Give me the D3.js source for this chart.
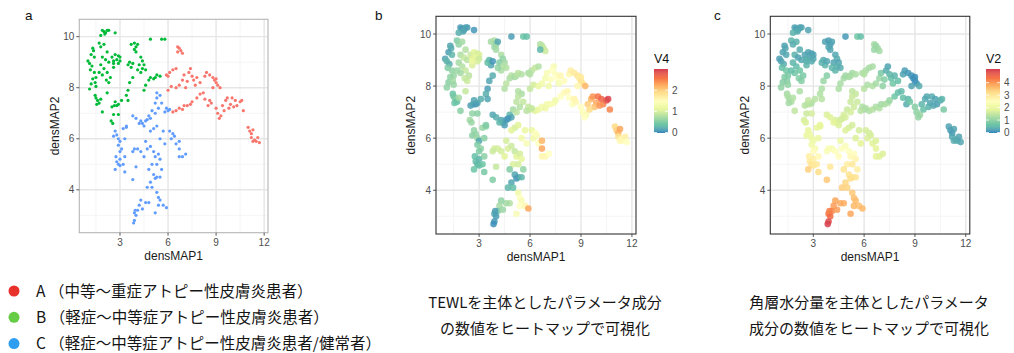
<!DOCTYPE html>
<html>
<head>
<meta charset="utf-8">
<script src="https://cdn.jsdelivr.net/npm/d3@7"></script>
<style>
  body { margin: 0; background: #fff; }
  svg { display: block; }
  .tick-lab { font-family: "Liberation Sans", Arial, sans-serif; font-size: 10px; fill: #4d4d4d; }
  .ax-title { font-family: "Liberation Sans", Arial, sans-serif; font-size: 12px; fill: #1a1a1a; }
  .jp { font-family: "Noto Sans CJK JP", sans-serif; font-size: 15px; fill: #151515; }
</style>
</head>
<body>
<div id="chart"></div>
<script>
// [densMAP1, densMAP2, V4, V2]
const clusterA = [
  [6.1,8.6,0.85,1.3],[6.3,8.7,0.9,1.2],[6.5,8.75,0.8,1.25],[5.9,8.5,0.75,1.3],[6.0,8.45,0.8,1.35],
  [6.6,9.6,0.8,1.2],[6.7,9.55,0.85,1.1],[6.8,9.45,0.9,1.15],[6.9,9.35,0.95,1.2],[6.6,9.4,0.3,1.1],
  [6.0,7.9,0.9,1.4],[6.2,8.05,1.0,1.3],[6.5,8.0,1.2,1.35],[6.7,8.1,1.3,1.2],[6.9,8.3,1.35,1.1],
  [7.0,8.5,1.4,0.8],[7.2,8.25,1.45,0.9],[7.1,8.0,1.3,1.0],[7.4,8.75,1.4,0.3],[7.3,8.6,1.5,0.4],
  [7.5,8.45,1.45,0.5],[7.6,8.3,1.5,0.6],[7.7,8.1,1.35,0.7],[7.8,8.4,1.6,0.5],[8.0,8.2,1.55,0.6],
  [8.3,8.45,1.6,0.3],[8.4,8.6,1.7,0.25],[8.6,8.5,1.75,0.2],[8.8,8.4,1.8,0.15],[8.9,8.3,1.7,0.1],
  [9.0,8.2,1.85,0.1],[9.1,8.1,1.8,0.15],[8.8,8.0,1.6,0.3],[9.0,8.35,1.75,0.1],[9.25,8.0,2.2,0.4],
  [6.3,7.05,1.1,1.3],[6.5,7.1,1.2,1.4],[6.7,7.2,1.3,1.3],[6.9,7.15,1.25,1.35],[7.0,7.3,1.3,1.2],
  [7.2,7.3,1.35,1.25],[7.4,7.35,1.4,1.3],[7.5,7.45,1.3,1.1],[7.8,7.6,1.5,0.7],[8.0,7.75,1.55,0.6],
  [8.2,7.8,1.6,0.55],[8.3,7.55,1.5,0.6],[8.6,7.5,1.65,0.5],[8.5,7.3,1.45,0.4],[8.7,7.4,1.6,0.7],
  [9.0,7.2,1.5,0.9],[9.1,7.0,1.45,1.0],[9.3,6.9,1.4,1.1],[9.2,6.8,1.5,1.05],[9.4,7.3,2.0,0.5],
  [9.6,7.5,2.2,0.4],[9.7,7.6,2.4,0.35],[9.9,7.35,2.3,0.3],[10.0,7.6,2.6,0.4],[10.2,7.5,2.7,0.3],
  [10.3,7.3,2.5,0.25],[10.5,7.45,2.8,0.4],[10.6,7.5,2.95,0.5],[10.7,7.1,2.5,0.8],[9.8,7.2,2.1,0.45],
  [9.5,7.1,1.9,0.6],[10.1,7.25,2.4,0.35],
  [11.0,6.45,1.9,0.3],[11.1,6.3,2.0,0.25],[11.2,6.2,2.2,0.2],[11.3,6.35,2.3,0.3],[11.2,6.05,1.8,0.35],
  [11.4,5.95,1.6,0.4],[11.5,5.9,1.5,0.45],[11.6,6.05,1.7,0.3],[11.3,5.9,1.6,0.4],[11.7,5.85,1.5,0.35]
];
const clusterB = [
  [1.9,10.25,0.15,0.3],[2.0,10.2,0.1,0.25],[2.1,10.15,0.15,0.3],[2.2,10.25,0.2,0.35],[2.3,10.25,0.15,0.3],
  [2.05,10.1,0.2,0.4],[1.8,10.05,0.25,0.45],[2.7,10.15,0.1,0.3],[1.7,9.75,0.5,0.5],
  [1.3,9.55,0.2,0.3],[1.35,9.45,0.25,0.35],[1.2,9.3,0.15,0.3],[1.4,9.2,0.3,0.35],[1.0,9.05,0.2,0.25],
  [1.1,8.95,0.3,0.3],[1.25,8.85,0.25,0.4],[1.15,8.7,0.5,0.6],[1.4,8.6,0.6,0.7],[1.5,8.4,0.65,0.8],
  [1.3,8.35,0.6,0.85],[1.2,8.15,0.55,0.9],[1.45,8.2,0.7,0.9],[1.1,7.95,0.6,1.0],[1.5,8.05,0.65,1.0],
  [1.45,7.7,0.4,1.2],[1.5,7.6,0.45,1.3],[1.6,7.5,0.5,1.25],[1.7,7.4,0.35,1.3],[1.55,7.35,0.4,1.2],
  [1.8,7.55,0.7,1.35],[1.9,7.05,0.55,1.5],
  [1.8,9.6,0.6,0.4],[2.0,9.7,0.7,0.45],[2.2,9.4,0.8,0.4],[1.9,9.2,0.75,0.45],[2.1,9.1,0.9,0.3],
  [2.3,9.0,0.85,0.35],[1.8,8.9,0.7,0.5],[2.0,8.75,0.8,0.55],[2.2,8.6,0.9,0.7],[1.9,8.5,0.7,0.7],
  [2.4,8.4,0.85,0.8],[2.3,8.2,0.95,0.9],[2.6,8.8,1.05,0.5],[2.5,9.2,0.95,0.3],[1.7,8.6,0.65,0.6],
  [2.15,8.3,0.9,0.85],
  [2.7,9.3,1.1,0.3],[2.9,9.25,1.0,0.25],[3.0,9.2,1.05,0.3],[2.8,9.1,1.15,0.35],[2.6,9.05,1.1,0.4],
  [3.0,9.05,0.95,0.35],[2.9,8.95,1.0,0.4],[2.6,8.95,1.2,0.45],
  [2.2,7.8,0.9,1.3],[2.5,7.25,0.15,1.4],[2.65,7.3,0.2,1.4],[2.8,7.3,0.1,1.45],[2.9,7.35,0.15,1.35],
  [2.7,7.45,0.2,1.5],[3.1,7.5,0.25,1.4],[2.6,6.95,0.6,1.6],[2.9,6.95,0.55,1.7],[2.45,6.7,0.7,1.75],
  [2.55,6.6,0.65,1.8],
  [3.7,9.7,0.7,0.3],[3.9,9.75,0.75,0.25],[4.0,9.6,0.6,0.2],[4.1,9.7,0.2,0.3],[3.9,9.5,0.65,0.35],
  [4.0,9.4,0.7,0.3],[4.3,9.2,0.75,0.35],[4.4,9.05,0.6,0.4],[4.2,8.9,0.5,0.3],[4.5,8.9,0.7,0.35],
  [4.4,8.75,0.8,0.45],[4.3,8.6,0.75,0.5],[4.6,8.7,0.8,0.4],[3.6,9.0,0.3,0.4],[3.7,8.8,0.2,0.5],
  [3.5,8.9,0.35,0.45],[3.8,8.95,0.1,0.35],[4.1,8.7,0.6,0.5],[3.8,8.4,0.25,0.9],[3.6,8.2,0.2,1.1],
  [3.5,7.9,0.15,1.3],[3.4,7.7,0.25,1.35],[3.5,7.5,0.2,1.4],[4.8,8.3,0.75,1.2],[4.9,8.4,0.8,1.15],
  [5.1,8.35,0.7,1.2],[5.2,8.4,0.8,1.25],[4.9,9.9,0.15,0.2],[5.6,9.9,0.4,0.7],[5.8,9.9,0.35,0.6],
  [4.5,7.9,0.8,1.3],[4.6,8.1,0.85,1.25],[5.3,8.5,0.85,1.2],[5.5,8.45,0.8,1.3]
];
const clusterC = [
  [5.9,7.2,0.9,1.3],[6.0,7.1,0.95,1.25],[6.1,7.15,0.9,1.3],[5.8,7.05,0.85,1.4],
  [5.3,7.8,0.8,1.5],[5.5,7.7,0.75,1.55],[5.3,7.6,0.85,1.6],[5.6,7.4,0.9,1.6],[5.4,7.2,0.8,1.65],
  [5.0,7.1,0.7,1.6],[5.2,7.0,0.85,1.7],[4.8,6.9,0.3,1.7],[4.9,6.8,0.2,1.75],[4.6,6.7,0.15,1.7],
  [4.4,6.6,0.1,1.8],[4.3,6.7,0.2,1.75],[4.5,6.5,0.15,1.8],[4.7,6.75,0.1,1.7],[3.8,6.9,0.2,1.8],
  [4.0,6.8,0.25,1.85],[4.2,6.6,0.3,1.9],
  [5.7,6.3,1.2,1.7],[5.5,6.0,1.3,1.8],[5.8,5.8,1.4,1.9],[5.1,6.4,1.0,1.75],[5.3,6.5,1.1,1.7],
  [6.2,6.0,1.3,1.8],[6.1,6.3,1.2,1.7],[6.4,6.1,1.4,1.75],[6.5,5.8,1.5,1.85],[6.7,5.9,2.2,1.8],
  [6.7,5.6,2.3,1.9],[6.7,5.3,1.6,1.9],[6.9,5.3,1.6,1.85],[7.1,5.4,1.5,1.8],[6.3,6.2,1.45,1.7],
  [2.7,6.3,0.6,2.0],[2.6,6.1,0.55,2.05],[2.8,6.15,0.6,2.1],[2.9,6.0,0.65,2.1],[3.0,5.9,0.2,2.15],
  [2.9,5.75,0.5,2.2],[3.1,5.6,0.6,2.25],[3.3,6.0,0.55,2.1],[3.2,6.4,0.65,2.0],[3.4,6.45,0.6,1.95],
  [2.8,5.1,0.35,3.0],[2.9,5.0,0.3,3.1],[3.0,4.95,0.35,3.05],[2.7,4.8,0.4,3.4],[3.0,5.2,0.3,2.9],
  [3.2,5.0,0.4,3.0],[3.3,4.7,0.45,3.2],[3.0,5.5,0.5,2.6],[3.3,5.3,0.55,2.7],[2.75,5.3,0.35,2.9],
  [3.8,4.4,0.5,3.5],[3.9,5.6,1.0,2.4],[4.1,5.6,1.0,2.35],[3.8,5.5,0.95,2.4],[4.0,4.9,0.9,3.0],
  [4.3,5.5,1.0,2.5],[4.5,5.3,1.1,2.6],[4.7,5.6,1.05,2.5],[4.9,5.7,0.95,2.4],[5.1,5.5,0.9,2.5],
  [5.2,5.3,1.1,2.7],[5.4,5.4,1.0,2.6],[5.5,5.2,1.15,2.8],[5.0,5.0,1.05,2.9],[5.3,5.0,1.0,3.0],
  [4.8,4.8,0.5,3.1],
  [5.1,4.6,0.2,3.1],[5.2,4.45,0.1,3.2],[5.3,4.5,0.15,3.15],[5.5,4.5,0.3,3.1],[5.6,4.8,0.6,2.9],
  [4.9,4.3,0.2,3.3],[4.7,4.1,0.3,3.4],[5.0,4.1,0.35,3.35],[5.3,3.9,1.3,3.5],[5.4,3.7,1.5,3.6],
  [5.5,3.6,1.4,3.65],[5.4,3.4,1.5,3.7],[5.7,3.4,1.6,3.6],[5.9,3.3,2.3,3.7],[5.2,3.1,1.4,3.9],
  [4.8,3.5,0.8,3.8],[4.6,3.5,0.7,3.85],[4.3,3.6,0.6,3.9],[4.2,3.4,0.7,4.0],[4.1,3.2,0.5,4.2],
  [3.9,3.1,0.2,4.4],[4.0,3.0,0.15,4.5],[3.9,2.8,0.1,4.9],[3.85,2.7,0.05,5.05],[3.95,3.2,0.15,4.3],
  [4.4,3.25,0.65,4.0],
  [4.6,5.9,1.0,2.1],[3.4,6.5,0.5,1.95],[5.2,7.4,0.85,1.6],[4.9,6.3,1.1,1.8]
];

const clusterNames = ["A", "B", "C"];
const clusterLabels = [
  "A （中等～重症アトピー性皮膚炎患者）",
  "B （軽症～中等症アトピー性皮膚炎患者）",
  "C （軽症～中等症アトピー性皮膚炎患者/健常者）"
];
const xTicks = [3, 6, 9, 12];
const yTicks = [4, 6, 8, 10];
const xMinor = [1.5, 4.5, 7.5, 10.5];
const yMinor = [3, 5, 7, 9];
const v4Ticks = [0, 1, 2];
const v2Ticks = [0, 1, 2, 3, 4];
const captionB = ["TEWLを主体としたパラメータ成分", "の数値をヒートマップで可視化"];
const captionC = ["角層水分量を主体としたパラメータ", "成分の数値をヒートマップで可視化"];

const W = 1014, H = 353;
const svg = d3.select("#chart").append("svg").attr("width", W).attr("height", H);

const points = [];
[clusterA, clusterB, clusterC].forEach((arr, i) => {
  arr.forEach(d => points.push({x: d[0], y: d[1], v4: d[2], v2: d[3], cl: clusterNames[i]}));
});

const xDom = [0.46, 12.24], yDom = [2.32, 10.68];
// reversed Spectral, 9 classes
const spectral = ["#3288BD", "#66C2A5", "#ABDDA4", "#E6F598", "#FFFFBF", "#FEE08B", "#FDAE61", "#F46D43", "#D53E4F"];
function spectralScale(max) {
  return d3.scaleLinear()
    .domain(spectral.map((_, i) => i * max / (spectral.length - 1)))
    .range(spectral)
    .interpolate(d3.interpolateLab)
    .clamp(true);
}
const v4Color = spectralScale(3.0);
const v2Color = spectralScale(5.1);
const clColor = d3.scaleOrdinal().domain(clusterNames).range(["#F8766D", "#00BA38", "#619CFF"]);

function panel(cfg) {
  const x = d3.scaleLinear().domain(xDom).range([cfg.left, cfg.right]);
  const y = d3.scaleLinear().domain(yDom).range([cfg.bottom, cfg.top]);
  const g = svg.append("g");

  g.selectAll(".minx").data(xMinor).join("line")
    .attr("x1", d => x(d)).attr("x2", d => x(d)).attr("y1", cfg.top).attr("y2", cfg.bottom)
    .attr("stroke", "#f2f2f2").attr("stroke-width", 0.8);
  g.selectAll(".miny").data(yMinor).join("line")
    .attr("y1", d => y(d)).attr("y2", d => y(d)).attr("x1", cfg.left).attr("x2", cfg.right)
    .attr("stroke", "#f2f2f2").attr("stroke-width", 0.8);
  g.selectAll(".majx").data(xTicks).join("line")
    .attr("x1", d => x(d)).attr("x2", d => x(d)).attr("y1", cfg.top).attr("y2", cfg.bottom)
    .attr("stroke", "#e6e6e6").attr("stroke-width", 1.4);
  g.selectAll(".majy").data(yTicks).join("line")
    .attr("y1", d => y(d)).attr("y2", d => y(d)).attr("x1", cfg.left).attr("x2", cfg.right)
    .attr("stroke", "#e6e6e6").attr("stroke-width", 1.4);

  g.selectAll("circle").data(points).join("circle")
    .attr("cx", d => x(d.x)).attr("cy", d => y(d.y)).attr("r", cfg.r)
    .attr("fill", cfg.color).attr("fill-opacity", cfg.alpha);

  g.append("rect").attr("x", cfg.left).attr("y", cfg.top)
    .attr("width", cfg.right - cfg.left).attr("height", cfg.bottom - cfg.top)
    .attr("fill", "none").attr("stroke", cfg.frame).attr("stroke-width", 1.1);

  // ticks
  g.selectAll(".tx").data(xTicks).join("line")
    .attr("x1", d => x(d)).attr("x2", d => x(d)).attr("y1", cfg.bottom).attr("y2", cfg.bottom + 3)
    .attr("stroke", "#333").attr("stroke-width", 0.8);
  g.selectAll(".ty").data(yTicks).join("line")
    .attr("y1", d => y(d)).attr("y2", d => y(d)).attr("x1", cfg.left - 3).attr("x2", cfg.left)
    .attr("stroke", "#333").attr("stroke-width", 0.8);
  g.selectAll(".txl").data(xTicks).join("text").attr("class", "tick-lab")
    .attr("x", d => x(d)).attr("y", cfg.bottom + 13).attr("text-anchor", "middle").text(d => d);
  g.selectAll(".tyl").data(yTicks).join("text").attr("class", "tick-lab")
    .attr("x", cfg.left - 5).attr("y", d => y(d) + 3.5).attr("text-anchor", "end").text(d => d);

  g.append("text").attr("class", "ax-title")
    .attr("x", (cfg.left + cfg.right) / 2).attr("y", cfg.bottom + 27)
    .attr("text-anchor", "middle").text("densMAP1");
  g.append("text").attr("class", "ax-title")
    .attr("transform", `translate(${cfg.ytitle},${(cfg.top + cfg.bottom) / 2}) rotate(-90)`)
    .attr("text-anchor", "middle").attr("dy", "0.35em").text("densMAP2");

  g.append("text").attr("x", cfg.tagX).attr("y", 20)
    .style("font-family", "Liberation Sans, Arial, sans-serif").style("font-size", "13.5px")
    .attr("fill", "#111").text(cfg.tag);
}

function colourbar(cfg) {
  const y = d3.scaleLinear().domain([0, cfg.max]).range([cfg.bottom, cfg.top]);
  const g = svg.append("g");
  const steps = d3.range(0, 60);
  const h = (cfg.bottom - cfg.top) / steps.length;
  g.selectAll("rect").data(steps).join("rect")
    .attr("x", cfg.x).attr("width", 14)
    .attr("y", d => cfg.bottom - (d + 1) * h).attr("height", h + 0.5)
    .attr("fill", d => cfg.scale((d + 0.5) / steps.length * cfg.max));
  g.selectAll(".tk1").data(cfg.ticks).join("line")
    .attr("x1", cfg.x).attr("x2", cfg.x + 3).attr("y1", d => y(d)).attr("y2", d => y(d))
    .attr("stroke", "#fff").attr("stroke-opacity", 0.8);
  g.selectAll(".tk2").data(cfg.ticks).join("line")
    .attr("x1", cfg.x + 11).attr("x2", cfg.x + 14).attr("y1", d => y(d)).attr("y2", d => y(d))
    .attr("stroke", "#fff").attr("stroke-opacity", 0.8);
  g.selectAll("text.lab").data(cfg.ticks).join("text").attr("class", "tick-lab")
    .attr("x", cfg.x + 18).attr("y", d => y(d) + 3.5).text(d => d);
  g.append("text").attr("x", cfg.x).attr("y", 63)
    .style("font-family", "Liberation Sans, Arial, sans-serif").style("font-size", "12.5px")
    .attr("fill", "#111").text(cfg.title);
}

panel({left: 79.3, right: 268, top: 19.3, bottom: 232.7, r: 1.6, alpha: 1,
  color: d => clColor(d.cl), frame: "#b5b5b5", ytitle: 55, tag: "a", tagX: 25});
panel({left: 436, right: 636, top: 16.3, bottom: 234, r: 3.3, alpha: 0.85,
  color: d => v4Color(d.v4), frame: "#333", ytitle: 411, tag: "b", tagX: 375});
panel({left: 770.3, right: 969.8, top: 16.3, bottom: 234, r: 3.3, alpha: 0.85,
  color: d => v2Color(d.v2), frame: "#333", ytitle: 745, tag: "c", tagX: 714});

colourbar({x: 654, top: 69, bottom: 132.5, max: 3.0, scale: v4Color, ticks: v4Ticks, title: "V4"});
colourbar({x: 986, top: 69, bottom: 132.5, max: 5.1, scale: v2Color, ticks: v2Ticks, title: "V2"});

// bottom legend
const legColors = ["#e8312a", "#67cc45", "#2d9ef0"];
const leg = svg.append("g");
clusterLabels.forEach((t, i) => {
  const cy = 291 + i * 26.3;
  leg.append("circle").attr("cx", 14).attr("cy", cy).attr("r", 5.5).attr("fill", legColors[i]);
  leg.append("text").attr("class", "jp").style("font-size", "15.5px")
    .attr("x", 36).attr("y", cy + 5.5).text(t);
});

[[captionB, 545], [captionC, 869]].forEach(([lines, cx]) => {
  lines.forEach((t, i) => {
    svg.append("text").attr("class", "jp").attr("x", cx).attr("y", 307.5 + i * 26)
      .attr("text-anchor", "middle").text(t);
  });
});
</script>
</body>
</html>
